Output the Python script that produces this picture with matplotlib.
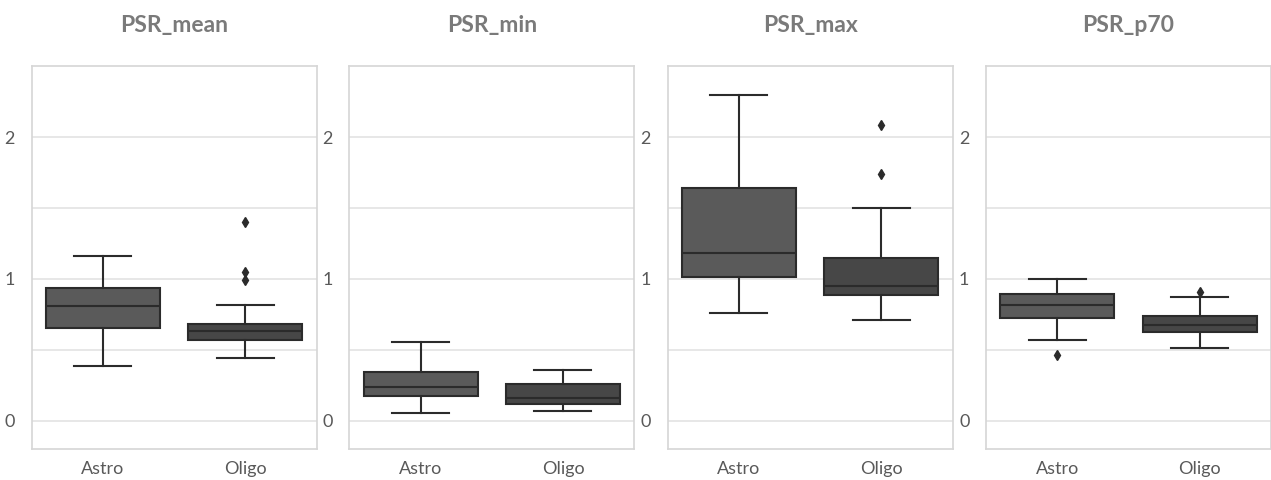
import matplotlib
matplotlib.use("Agg")
import matplotlib.pyplot as plt

titles = ["PSR_mean", "PSR_min", "PSR_max", "PSR_p70"]
categories = ["Astro", "Oligo"]

# [whisker_low, q1, median, q3, whisker_high] per panel, per category
astro_stats = [
    [0.389, 0.657, 0.812, 0.939, 1.162],
    [0.056, 0.174, 0.235, 0.345, 0.552],
    [0.758, 1.014, 1.183, 1.641, 2.298],
    [0.568, 0.728, 0.819, 0.897, 1.000],
]
oligo_stats = [
    [0.441, 0.568, 0.634, 0.685, 0.815],
    [0.066, 0.117, 0.162, 0.258, 0.357],
    [0.711, 0.887, 0.951, 1.150, 1.498],
    [0.512, 0.627, 0.676, 0.739, 0.873],
]
astro_outliers = [[], [], [], [0.465]]
oligo_outliers = [[1.404, 1.051, 0.993], [], [2.089, 1.744], [0.911]]

box_colors = ["#5a5a5a", "#474747"]
line_color = "#2b2b2b"

plt.rcParams["font.family"] = ["Lato", "DejaVu Sans"]

fig = plt.figure(figsize=(12.71, 4.8), dpi=100)
lefts = [0.0249, 0.2748, 0.5253, 0.7758]
width = 0.2242
bottom = 0.0646
height = 0.797

for i, title in enumerate(titles):
    ax = fig.add_axes([lefts[i], bottom, width, height])
    stats = []
    for s, fl, lab in [(astro_stats[i], astro_outliers[i], categories[0]),
                       (oligo_stats[i], oligo_outliers[i], categories[1])]:
        stats.append(dict(whislo=s[0], q1=s[1], med=s[2], q3=s[3], whishi=s[4],
                          fliers=fl, label=lab))
    bp = ax.bxp(stats, positions=[0, 1], widths=0.8, patch_artist=True,
                showfliers=True,
                boxprops=dict(edgecolor=line_color, linewidth=1.5),
                medianprops=dict(color=line_color, linewidth=1.5),
                whiskerprops=dict(color=line_color, linewidth=1.5),
                capprops=dict(color=line_color, linewidth=1.5),
                flierprops=dict(marker="d", markerfacecolor=line_color,
                                markeredgecolor=line_color, markersize=5))
    for patch, c in zip(bp["boxes"], box_colors):
        patch.set_facecolor(c)
    ax.set_xlim(-0.5, 1.5)
    ax.set_ylim(-0.2, 2.5)
    ax.set_yticks([0, 1, 2])
    ax.set_yticks([0.5, 1.5], minor=True)
    ax.grid(True, which="both", axis="y", color="#e3e3e3", linewidth=1.2)
    ax.set_axisbelow(True)
    ax.tick_params(axis="both", which="both", length=0, labelsize=13,
                   labelcolor="#595959")
    ax.tick_params(axis="x", pad=9)
    ax.tick_params(axis="y", pad=12)
    for sp in ax.spines.values():
        sp.set_color("#d6d6d6")
        sp.set_linewidth(1.2)
    ax.set_title(title, fontsize=16.5, fontweight="bold", color="#7a7a7a", pad=25)

fig.savefig("out.png", dpi=100, facecolor="white")
